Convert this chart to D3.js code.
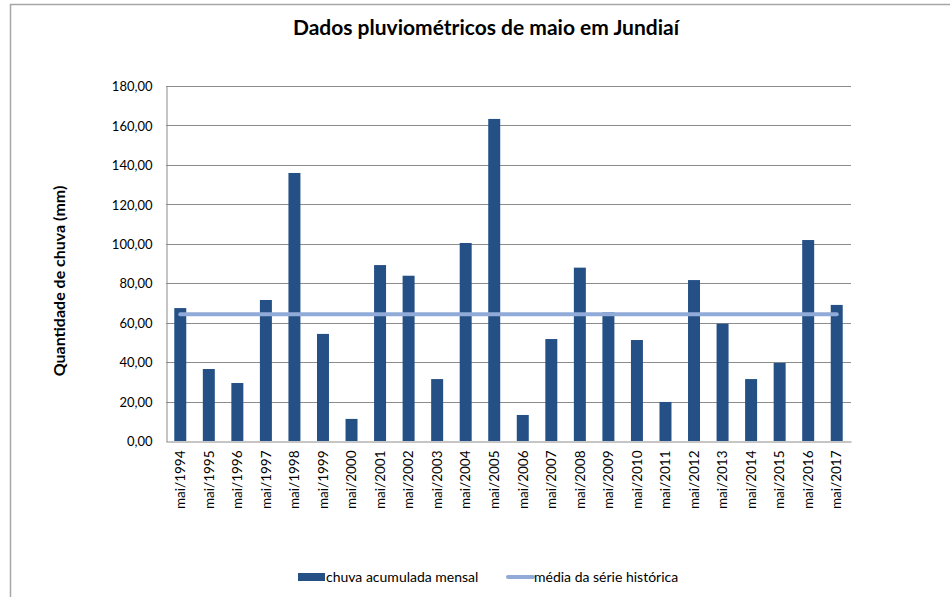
<!DOCTYPE html>
<html>
<head>
<meta charset="utf-8">
<script src="https://cdn.jsdelivr.net/npm/d3@7/dist/d3.min.js"></script>
<style>
  html, body { margin: 0; padding: 0; background: #fff; }
  svg { display: block; }
  text { font-family: Lato, "Open Sans", sans-serif; fill: #000; }
</style>
</head>
<body>
<script>
const categories = ["mai/1994","mai/1995","mai/1996","mai/1997","mai/1998","mai/1999","mai/2000","mai/2001","mai/2002","mai/2003","mai/2004","mai/2005","mai/2006","mai/2007","mai/2008","mai/2009","mai/2010","mai/2011","mai/2012","mai/2013","mai/2014","mai/2015","mai/2016","mai/2017"];
const rainfall = [67.4, 36.5, 29.4, 71.5, 135.9, 54.3, 11.2, 89.2, 83.8, 31.4, 100.4, 163.3, 13.2, 51.7, 87.9, 65.2, 51.2, 19.8, 81.6, 59.5, 31.4, 39.6, 101.9, 69.0];
const historicalMean = [64.3];
const yTicks = [0, 20, 40, 60, 80, 100, 120, 140, 160, 180];
const title = "Dados pluviométricos de maio em Jundiaí";
const yTitle = "Quantidade de chuva (mm)";
const legendLabels = ["chuva acumulada mensal", "média da série histórica"];

const W = 950, H = 597;
const plot = { left: 166, right: 851, top: 86, bottom: 441 };

const svg = d3.select("body").append("svg").attr("width", W).attr("height", H);

// outer chart border (extends past page on right/bottom)
svg.append("path")
  .attr("d", `M10.5,${H + 5} L10.5,4.5 L${W + 5},4.5`)
  .attr("fill", "none").attr("stroke", "#a6a6a6").attr("stroke-width", 1.5);

const x = d3.scaleBand().domain(categories).range([plot.left, plot.right]).paddingInner(0.58).paddingOuter(0.29);
const xc = d3.scaleBand().domain(categories).range([plot.left, plot.right]);
const y = d3.scaleLinear().domain([0, 180]).range([plot.bottom, plot.top]);

// gridlines
svg.append("g").selectAll("line").data(yTicks.filter(d => d > 0)).join("line")
  .attr("x1", plot.left).attr("x2", plot.right)
  .attr("y1", d => Math.round(y(d)) + 0.5).attr("y2", d => Math.round(y(d)) + 0.5)
  .attr("stroke", "#8c8c8c").attr("stroke-width", 1);

// y axis
const yAxis = d3.axisLeft(y).tickValues(yTicks).tickSize(0).tickPadding(14)
  .tickFormat(d => d3.format(".2f")(d).replace(".", ","));
const gy = svg.append("g").attr("transform", `translate(${plot.left + 0.5},0.5)`).call(yAxis);
gy.select(".domain").attr("stroke", "#8c8c8c");
gy.selectAll("text").style("font-family", "Lato, sans-serif").style("font-size", "13px").attr("fill", "#000");

// bars
svg.append("g").selectAll("rect").data(rainfall).join("rect")
  .attr("x", (d, i) => x(categories[i]))
  .attr("width", x.bandwidth())
  .attr("y", d => y(d))
  .attr("height", d => plot.bottom - y(d))
  .attr("fill", "#255086");

// x axis
const xAxis = d3.axisBottom(xc).tickSize(0).tickPadding(0);
const gx = svg.append("g").attr("transform", `translate(0,${plot.bottom + 0.5})`).call(xAxis);
gx.select(".domain").attr("stroke", "#8c8c8c");
gx.selectAll("text")
  .style("font-family", "Lato, sans-serif").style("font-size", "13.5px").attr("fill", "#000")
  .attr("transform", "rotate(-90)")
  .attr("text-anchor", "end")
  .attr("x", -9).attr("y", 0).attr("dy", "0.35em");

// mean line
const line = d3.line().x(d => xc(d) + xc.bandwidth() / 2).y(() => y(historicalMean[0]));
svg.append("path").datum([categories[0], categories[categories.length - 1]])
  .attr("d", line)
  .attr("fill", "none").attr("stroke", "#91abd8").attr("stroke-width", 4).attr("stroke-linecap", "round");

// title
svg.append("text").attr("x", 486).attr("y", 35).attr("text-anchor", "middle")
  .style("font-size", "21px").style("font-weight", "bold").text(title);

// y title
svg.append("text").attr("transform", `translate(65,281) rotate(-90)`)
  .attr("text-anchor", "middle").style("font-size", "16px").style("font-weight", "bold").text(yTitle);

// legend
const lg = svg.append("g");
lg.append("rect").attr("x", 298).attr("y", 573).attr("width", 27).attr("height", 8).attr("fill", "#255086");
lg.append("text").attr("x", 326).attr("y", 582).style("font-size", "14px").text(legendLabels[0]);
lg.append("line").attr("x1", 508).attr("x2", 533).attr("y1", 577).attr("y2", 577)
  .attr("stroke", "#91abd8").attr("stroke-width", 4).attr("stroke-linecap", "round");
lg.append("text").attr("x", 534).attr("y", 582).style("font-size", "14px").text(legendLabels[1]);
</script>
</body>
</html>
